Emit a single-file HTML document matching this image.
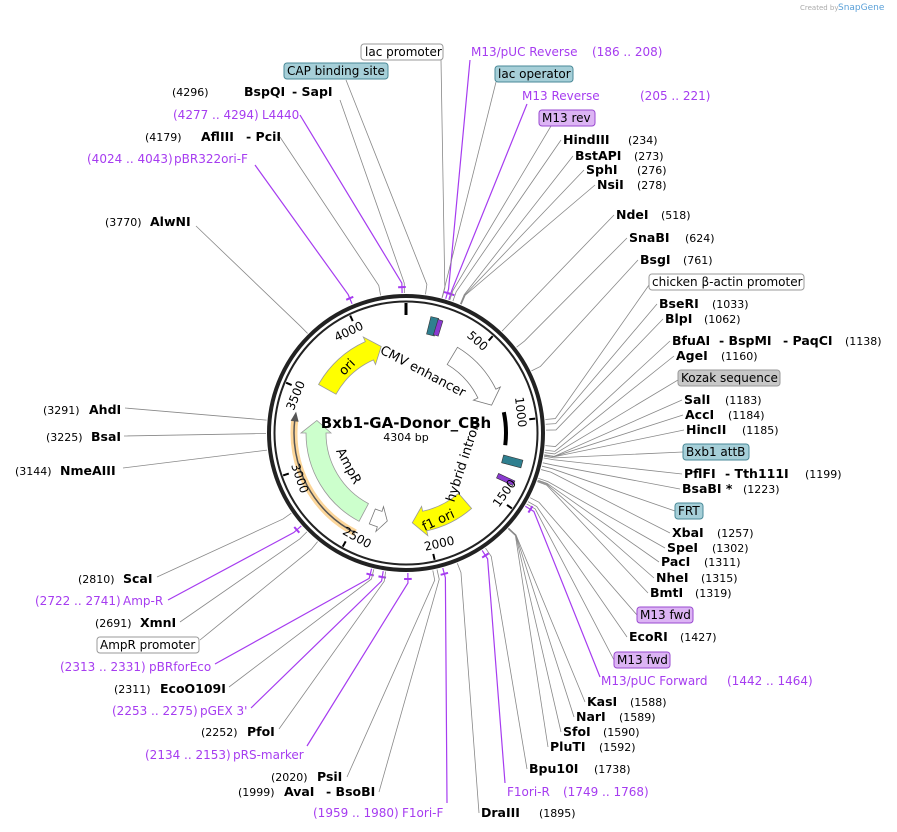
<!DOCTYPE html>
<html><head><meta charset="utf-8"><style>
html,body{margin:0;padding:0;background:#fff}
svg{display:block}
text{font-family:"DejaVu Sans","Liberation Sans",sans-serif;font-size:12px}
.e{font-weight:bold;font-size:12.5px;fill:#000}
.n{font-size:11px;fill:#000}
.p{fill:#a63cf0;font-size:12px}
</style></head><body>
<svg id="s" width="897" height="832" viewBox="0 0 897 832" xmlns="http://www.w3.org/2000/svg">
<g id="lines"></g>
<g id="shapes"></g>
<text x="800" y="10" style="font-size:7px;fill:#aaa">Created by</text><text x="838" y="10" style="font-size:9px;fill:#5aa0d8">SnapGene</text>

<rect x="361" y="44" width="82" height="16" rx="3" fill="#fff" stroke="#999"/><text x="365" y="56">lac promoter</text>
<rect x="284" y="63" width="104" height="16" rx="3" fill="#a6cfd8" stroke="#4a8a98"/><text x="287" y="75">CAP binding site</text>
<rect x="495" y="66" width="78" height="16" rx="3" fill="#a6cfd8" stroke="#4a8a98"/><text x="498" y="78">lac operator</text>
<rect x="539" y="110" width="56" height="16" rx="3" fill="#dcb4f4" stroke="#9a4ad0"/><text x="542" y="122">M13 rev</text>
<rect x="649" y="274" width="155" height="16" rx="3" fill="#fff" stroke="#999"/><text x="652" y="286">chicken β-actin promoter</text>
<rect x="678" y="370" width="102" height="16" rx="3" fill="#c8c8c8" stroke="#999"/><text x="681" y="382">Kozak sequence</text>
<rect x="683" y="444" width="66" height="16" rx="3" fill="#a6cfd8" stroke="#4a8a98"/><text x="686" y="456">Bxb1 attB</text>
<rect x="675" y="503" width="28" height="16" rx="3" fill="#a6cfd8" stroke="#4a8a98"/><text x="678" y="515">FRT</text>
<rect x="637" y="607" width="56" height="16" rx="3" fill="#dcb4f4" stroke="#9a4ad0"/><text x="640" y="619">M13 fwd</text>
<rect x="614" y="652" width="56" height="16" rx="3" fill="#dcb4f4" stroke="#9a4ad0"/><text x="617" y="664">M13 fwd</text>
<rect x="97" y="637" width="102" height="16" rx="3" fill="#fff" stroke="#999"/><text x="100" y="649">AmpR promoter</text>

<text class="p" x="471" y="56">M13/pUC Reverse <tspan x="592">(186 .. 208)</tspan></text>
<text class="p" x="522" y="100">M13 Reverse <tspan x="640">(205 .. 221)</tspan></text>
<text class="e" x="563" y="144">HindIII</text><text class="n" x="628" y="144">(234)</text>
<text class="e" x="575" y="160">BstAPI</text><text class="n" x="634" y="160">(273)</text>
<text class="e" x="586" y="174">SphI</text><text class="n" x="637" y="174">(276)</text>
<text class="e" x="597" y="189">NsiI</text><text class="n" x="637" y="189">(278)</text>
<text class="e" x="616" y="219">NdeI</text><text class="n" x="661" y="219">(518)</text>
<text class="e" x="629" y="242">SnaBI</text><text class="n" x="685" y="242">(624)</text>
<text class="e" x="640" y="264">BsgI</text><text class="n" x="683" y="264">(761)</text>
<text class="e" x="659" y="308">BseRI</text><text class="n" x="712" y="308">(1033)</text>
<text class="e" x="665" y="323">BlpI</text><text class="n" x="704" y="323">(1062)</text>
<text class="e" x="672" y="345">BfuAI <tspan x="719">- BspMI</tspan><tspan x="783">- PaqCI</tspan></text><text class="n" x="845" y="345">(1138)</text>
<text class="e" x="676" y="360">AgeI</text><text class="n" x="721" y="360">(1160)</text>
<text class="e" x="684" y="404">SalI</text><text class="n" x="725" y="404">(1183)</text>
<text class="e" x="685" y="419">AccI</text><text class="n" x="728" y="419">(1184)</text>
<text class="e" x="686" y="434">HincII</text><text class="n" x="742" y="434">(1185)</text>
<text class="e" x="684" y="478">PflFI <tspan x="725">- Tth111I</tspan></text><text class="n" x="805" y="478">(1199)</text>
<text class="e" x="682" y="493">BsaBI *</text><text class="n" x="743" y="493">(1223)</text>
<text class="e" x="672" y="537">XbaI</text><text class="n" x="717" y="537">(1257)</text>
<text class="e" x="667" y="552">SpeI</text><text class="n" x="712" y="552">(1302)</text>
<text class="e" x="661" y="566">PacI</text><text class="n" x="704" y="566">(1311)</text>
<text class="e" x="656" y="582">NheI</text><text class="n" x="701" y="582">(1315)</text>
<text class="e" x="650" y="597">BmtI</text><text class="n" x="695" y="597">(1319)</text>
<text class="e" x="629" y="641">EcoRI</text><text class="n" x="680" y="641">(1427)</text>
<text class="p" x="601" y="685">M13/pUC Forward <tspan x="727">(1442 .. 1464)</tspan></text>
<text class="e" x="587" y="706">KasI</text><text class="n" x="630" y="706">(1588)</text>
<text class="e" x="576" y="721">NarI</text><text class="n" x="619" y="721">(1589)</text>
<text class="e" x="563" y="736">SfoI</text><text class="n" x="603" y="736">(1590)</text>
<text class="e" x="550" y="751">PluTI</text><text class="n" x="599" y="751">(1592)</text>
<text class="e" x="529" y="773">Bpu10I</text><text class="n" x="594" y="773">(1738)</text>
<text class="p" x="507" y="796">F1ori-R <tspan x="563">(1749 .. 1768)</tspan></text>
<text class="e" x="481" y="817">DraIII</text><text class="n" x="539" y="817">(1895)</text>

<text class="n" x="172" y="96">(4296)</text><text class="e" x="244" y="96">BspQI <tspan x="292">- SapI</tspan></text>
<text class="p" x="173" y="119">(4277 .. 4294) <tspan x="262">L4440</tspan></text>
<text class="n" x="145" y="141">(4179)</text><text class="e" x="201" y="141">AflIII <tspan x="246">- PciI</tspan></text>
<text class="p" x="87" y="163">(4024 .. 4043) <tspan x="174">pBR322ori-F</tspan></text>
<text class="n" x="105" y="226">(3770)</text><text class="e" x="150" y="226">AlwNI</text>
<text class="n" x="43" y="414">(3291)</text><text class="e" x="89" y="414">AhdI</text>
<text class="n" x="46" y="441">(3225)</text><text class="e" x="91" y="441">BsaI</text>
<text class="n" x="15" y="475">(3144)</text><text class="e" x="60" y="475">NmeAIII</text>
<text class="n" x="78" y="583">(2810)</text><text class="e" x="123" y="583">ScaI</text>
<text class="p" x="35" y="605">(2722 .. 2741) <tspan x="123">Amp-R</tspan></text>
<text class="n" x="95" y="627">(2691)</text><text class="e" x="140" y="627">XmnI</text>
<text class="p" x="60" y="671">(2313 .. 2331) <tspan x="149">pBRforEco</tspan></text>
<text class="n" x="114" y="693">(2311)</text><text class="e" x="160" y="693">EcoO109I</text>
<text class="p" x="112" y="715">(2253 .. 2275) <tspan x="200">pGEX 3'</tspan></text>
<text class="n" x="201" y="736">(2252)</text><text class="e" x="247" y="736">PfoI</text>
<text class="p" x="145" y="759">(2134 .. 2153) <tspan x="233">pRS-marker</tspan></text>
<text class="n" x="271" y="781">(2020)</text><text class="e" x="317" y="781">PsiI</text>
<text class="n" x="238" y="796">(1999)</text><text class="e" x="284" y="796">AvaI <tspan x="326">- BsoBI</tspan></text>
<text class="p" x="313" y="817">(1959 .. 1980) <tspan x="402">F1ori-F</tspan></text>

<g id="arrows"></g>
<text x="406" y="428" text-anchor="middle" style="font-weight:bold;font-size:15px">Bxb1-GA-Donor_CBh</text>
<text x="406" y="441" text-anchor="middle" style="font-size:11px">4304 bp</text>
<text transform="translate(421,375) rotate(28)" text-anchor="middle" style="font-size:13px">CMV enhancer</text>
<text transform="translate(467,463) rotate(-72)" text-anchor="middle" style="font-size:13px">hybrid intron</text>
<text transform="translate(350,370) rotate(-45)" text-anchor="middle" style="font-size:13px">ori</text>
<text transform="translate(345,468) rotate(62)" text-anchor="middle" style="font-size:13px">AmpR</text>
<text transform="translate(440,524) rotate(-25)" text-anchor="middle" style="font-size:13px">f1 ori</text>
<g id="ticks"></g>
</svg>
<script>
var cx=406,cy=433,N=4304,NS="http://www.w3.org/2000/svg";
function P(r,a){a=a*Math.PI/180;return[cx+r*Math.sin(a),cy-r*Math.cos(a)];}
function A(p){return p/N*360;}
function el(g,t,at){var e=document.createElementNS(NS,t);for(var k in at)e.setAttribute(k,at[k]);document.getElementById(g).appendChild(e);return e;}
var L=[[441,60,15,'#888'],[346,80,8,'#888'],[470,60,A(197),'#a63cf0'],[496,82,A(178),'#888'],[527,104,A(213),'#a63cf0'],[551,126,A(218),'#888'],
[561,140,A(234)],[573,156,A(273)],[584,170,A(276)],[595,185,A(278)],[614,215,A(518)],[627,238,A(624)],[638,260,A(761)],[649,285,A(1010)],
[657,304,A(1033)],[663,319,A(1062)],[670,341,A(1138)],[674,356,A(1160)],[678,380,A(1172)],[682,400,A(1183)],[683,415,A(1184)],[684,430,A(1185)],
[683,452,A(1190)],[682,474,A(1199)],[680,489,A(1223)],[675,511,A(1240)],[670,533,A(1257)],[665,548,A(1302)],[659,562,A(1311)],[654,578,A(1315)],[648,593,A(1319)],
[637,615,A(1405),'#888'],[627,637,A(1427)],[614,660,A(1440),'#888'],[600,677,A(1453),'#a63cf0'],[585,702,A(1588)],[574,717,A(1589)],[561,732,A(1590)],[548,747,A(1592)],
[527,769,A(1738)],[505,783,A(1758),'#a63cf0'],[479,813,A(1895)],
[340,100,A(4296)],[300,115,A(4285),'#a63cf0'],[280,137,A(4179)],[255,165,A(4033),'#a63cf0'],[196,226,A(3770)],
[125,408,A(3291)],[124,436,A(3225)],[123,468,A(3144)],[157,577,A(2810)],[168,600,A(2731),'#a63cf0'],[180,622,A(2691)],[200,640,A(2620)],
[215,664,A(2322),'#a63cf0'],[229,687,A(2311)],[251,708,A(2264),'#a63cf0'],[279,729,A(2252)],[307,746,A(2143),'#a63cf0'],[347,777,A(2020)],[379,792,A(1999)],[447,803,A(1970),'#a63cf0']];
L.forEach(function(l){var c=l[3]||'#888';var a=P(150,l[2]),b=P(140,l[2]);
el('lines','polyline',{points:l[0]+','+l[1]+' '+a+' '+b,fill:'none',stroke:c,'stroke-width':c=='#888'?0.8:1.2});
if(c=='#a63cf0'){var q=P(146,l[2]-1.5),q2=P(146,l[2]+1.5);el('lines','path',{d:'M'+q+'A146,146 0 0 1 '+q2,stroke:c,'stroke-width':2,fill:'none'});}});
el('shapes','circle',{cx:cx,cy:cy,r:137,fill:'#fff',stroke:'#222','stroke-width':4});
el('shapes','circle',{cx:cx,cy:cy,r:131.5,fill:'none',stroke:'#222','stroke-width':2});
for(var p=0;p<N;p+=500){var a=A(p);var o=P(130,a),i=P(p==0?118:124,a);el('ticks','line',{x1:o[0],y1:o[1],x2:i[0],y2:i[1],stroke:'#000','stroke-width':p==0?3:2});
if(p>0){var t=P(116,a-4);var tx=el('ticks','text',{transform:'translate('+t[0]+','+t[1]+') rotate('+(a>90&&a<270?a-180:a)+')','text-anchor':'middle','dominant-baseline':'middle',style:'font-size:12px'});tx.textContent=p;}}
function arrow(a1,a2,r1,r2,fill,stroke,cw,head){
 var s=cw?1:-1,hb=a2-s*head,rm=(r1+r2)/2;
 var p1=P(r2,a1),p2=P(r2,hb),p3=P(r2+5,hb),p4=P(rm,a2),p5=P(r1-5,hb),p6=P(r1,hb),p7=P(r1,a1);
 var lg=Math.abs(hb-a1)>180?1:0;
 var d='M'+p1+'A'+r2+','+r2+' 0 '+lg+' '+(cw?1:0)+' '+p2+'L'+p3+'L'+p4+'L'+p5+'L'+p6+'A'+r1+','+r1+' 0 '+lg+' '+(cw?0:1)+' '+p7+'Z';
 el('arrows','path',{d:d,fill:fill,stroke:stroke,'stroke-width':0.8});}
arrow(31,72,80,100,'#fff','#777',true,8);
arrow(-61,-16,80,100,'#ffff00','#999',true,8);
arrow(208,278,80,100,'#ccffcc','#999',true,8);
arrow(202,192,82,98,'#fff','#777',false,5);
arrow(139,176,80,100,'#ffff00','#999',true,8);
var o1=P(112,207),o2=P(112,277);
el('arrows','path',{d:'M'+o1+'A112,112 0 0 1 '+o2,stroke:'#fcd69a','stroke-width':7,fill:'none'});
el('arrows','path',{d:'M'+o1+'A112,112 0 0 1 '+o2,stroke:'#555','stroke-width':1.5,fill:'none'});
var h=P(112,281),h1=P(108,276),h2=P(116,276);el('arrows','polygon',{points:h+' '+h1+' '+h2,fill:'#555'});
var b1=P(100,78),b2=P(100,97);el('arrows','path',{d:'M'+b1+'A100,100 0 0 1 '+b2,stroke:'#000','stroke-width':4,fill:'none'});
function box(a,r,w,h,f){var c=P(r,a);el('arrows','rect',{x:-w/2,y:-h/2,width:w,height:h,fill:f,stroke:'#333','stroke-width':0.6,transform:'translate('+c+') rotate('+a+')'});}
box(14,110,8,18,'#2f7f8f');box(17,110,5,16,'#8a3ad0');
box(105,110,8,20,'#2f7f8f');box(115,110,5,18,'#8a3ad0');
</script>
</body></html>
